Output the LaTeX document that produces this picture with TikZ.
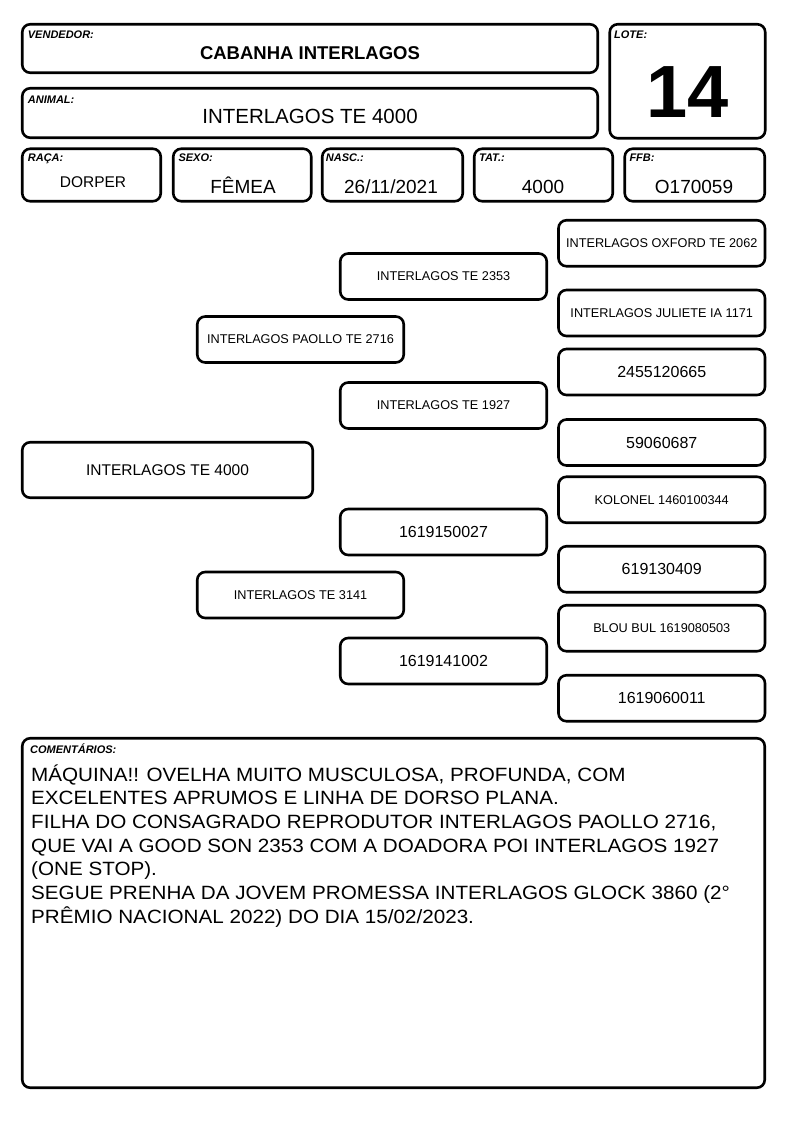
\documentclass[tikz,border=0pt]{standalone}
\usepackage{fontspec}
\setmainfont{Liberation Sans}
\newfontfamily\widefont[FakeStretch=1.075]{Liberation Sans}
\newcommand{\myfs}[1]{\fontsize{#1}{#1}\selectfont}
\tikzset{
  box/.style={draw=black, line width=2.6pt, rounded corners=8pt, inner sep=0pt, fill=white},
  pbox/.style={box, minimum width=206.5pt, minimum height=46pt, font=\myfs{12.7}},
  nbox/.style={box, minimum width=206.5pt, minimum height=46pt, font=\myfs{16}},
  lbl/.style={anchor=base west, inner sep=0pt, font=\myfs{11}\bfseries\itshape},
  val/.style={anchor=base, inner sep=0pt, font=\myfs{19}},
  cmt/.style={anchor=base west, inner sep=0pt, font=\widefont\myfs{19.2}},
}
\begin{document}
\begin{tikzpicture}[x=1pt, y=-1pt]
\useasboundingbox (0,0) rectangle (794,1123);
% header
\node[box, minimum width=575.5pt, minimum height=48.5pt] (vend) at (310,48.5) {};
\node[lbl] (vendl) at (27.7,39) {VENDEDOR:};
\node[anchor=base, inner sep=0pt, font=\myfs{18.5}\bfseries] (vendv) at (310,59.7) {CABANHA INTERLAGOS};
\node[box, minimum width=575.5pt, minimum height=49.5pt] (anim) at (310,113) {};
\node[lbl] (animl) at (27.7,103.3) {ANIMAL:};
\node[anchor=base, inner sep=0pt, font=\myfs{20.5}] (animv) at (310,123.5) {INTERLAGOS TE 4000};
\node[box, minimum width=155.5pt, minimum height=114pt] (lote) at (687.5,81.25) {};
\node[lbl] (lotel) at (614,39) {LOTE:};
\node[anchor=base, inner sep=0pt, font=\myfs{74}\bfseries] (lotev) at (688,118) {14};
% row
\node[box, minimum width=138.5pt, minimum height=52.5pt] (raca) at (91.5,175) {};
\node[lbl] (racal) at (27.7,161.5) {RAÇA:};
\node[anchor=base, inner sep=0pt, font=\myfs{15.5}] (racav) at (93,187.7) {DORPER};
\node[box, minimum width=138pt, minimum height=52.5pt] (sexo) at (242.25,175) {};
\node[lbl] (sexol) at (178.3,161.5) {SEXO:};
\node[val] (sexov) at (243,193.3) {FÊMEA};
\node[box, minimum width=140.5pt, minimum height=52.5pt] (nasc) at (392.5,175) {};
\node[lbl] (nascl) at (325.7,161.5) {NASC.:};
\node[val] (nascv) at (391,193.3) {26/11/2021};
\node[box, minimum width=138.5pt, minimum height=52.5pt] (tat) at (543.5,175) {};
\node[lbl] (tatl) at (479,161.5) {TAT.:};
\node[val] (tatv) at (543,193.3) {4000};
\node[box, minimum width=140pt, minimum height=52.5pt] (ffb) at (694.75,175) {};
\node[lbl] (ffbl) at (629.3,161.5) {FFB:};
\node[val] (ffbv) at (694,193.3) {O170059};
% pedigree
\node[box, minimum width=290.5pt, minimum height=55.5pt, font=\myfs{15.5}] (p0) at (167.5,470) {INTERLAGOS TE 4000};
\node[pbox] (p1) at (300.5,339.5) {INTERLAGOS PAOLLO TE 2716};
\node[pbox] (p2) at (300.5,595) {INTERLAGOS TE 3141};
\node[pbox] (p11) at (443.5,276.5) {INTERLAGOS TE 2353};
\node[pbox] (p12) at (443.5,405.5) {INTERLAGOS TE 1927};
\node[nbox] (p21) at (443.5,532) {1619150027};
\node[nbox] (p22) at (443.5,661) {1619141002};
\node[pbox] (p111) at (661.75,243.25) {INTERLAGOS OXFORD TE 2062};
\node[pbox] (p112) at (661.75,313) {INTERLAGOS JULIETE IA 1171};
\node[nbox] (p121) at (661.75,372) {2455120665};
\node[nbox] (p122) at (661.75,442.5) {59060687};
\node[pbox] (p211) at (661.75,499.75) {KOLONEL 1460100344};
\node[nbox] (p212) at (661.75,569.25) {619130409};
\node[pbox] (p221) at (661.75,628.25) {BLOU BUL 1619080503};
\node[nbox] (p222) at (661.75,698.25) {1619060011};
% comments
\node[box, minimum width=742.5pt, minimum height=349.5pt] (com) at (393.5,913) {};
\node[lbl] (coml) at (30,753) {COMENTÁRIOS:};
\node[cmt] (c1) at (31,781) {MÁQUINA!! OVELHA MUITO MUSCULOSA, PROFUNDA, COM};
\node[cmt] (c2) at (31,804.7) {EXCELENTES APRUMOS E LINHA DE DORSO PLANA.};
\node[cmt] (c3) at (31,828.4) {FILHA DO CONSAGRADO REPRODUTOR INTERLAGOS PAOLLO 2716,};
\node[cmt] (c4) at (31,852.1) {QUE VAI A GOOD SON 2353 COM A DOADORA POI INTERLAGOS 1927};
\node[cmt] (c5) at (31,875.8) {(ONE STOP).};
\node[cmt] (c6) at (31,899.5) {SEGUE PRENHA DA JOVEM PROMESSA INTERLAGOS GLOCK 3860 (2°};
\node[cmt] (c7) at (31,923.2) {PRÊMIO NACIONAL 2022) DO DIA 15/02/2023.};
\end{tikzpicture}
\end{document}
